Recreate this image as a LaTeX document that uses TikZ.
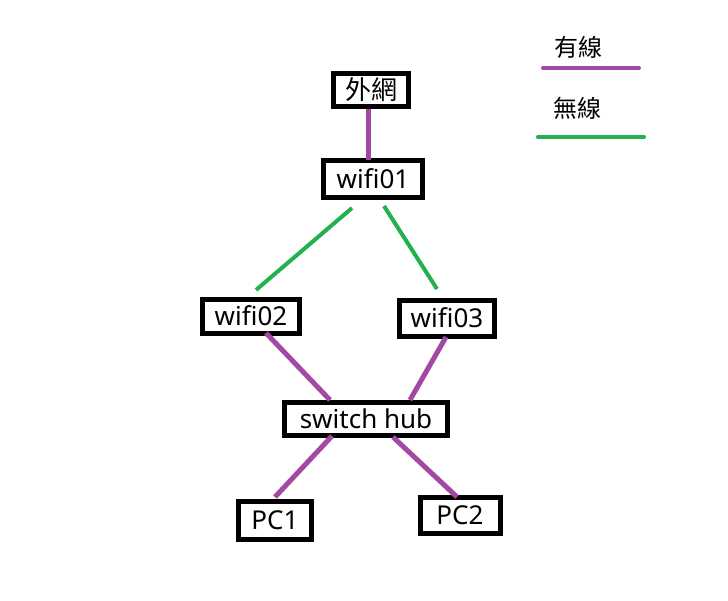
\documentclass[tikz,border=0pt]{standalone}
\usepackage{fontspec}
\setmainfont{Noto Sans}
\newfontfamily\cjk{Noto Sans CJK TC}
\usepackage{tikz}
\usetikzlibrary{positioning}
\definecolor{wirepurple}{HTML}{A349A4}
\definecolor{wifigreen}{HTML}{22B14C}

\begin{document}
\begin{tikzpicture}[x=1pt, y=-1pt,
  netbox/.style={rectangle, draw=black, fill=white, line width=5pt, font=\fontsize{26}{30}\selectfont, inner sep=0pt, align=center},
  keytext/.style={font=\cjk\fontsize{24}{28}\selectfont, inner sep=0pt},
  wired/.style={wirepurple, line width=5pt},
  wireless/.style={wifigreen, line width=4pt}
]
  \fill[white] (0,0) rectangle (728,600);
  \useasboundingbox (0,0) rectangle (728,600);

  \node[netbox, minimum width=75pt, minimum height=33pt] (ext) at (371,90) {\cjk 外網};
  \node[netbox, minimum width=99pt, minimum height=37pt] (wifi01) at (373,179) {wifi01};
  \node[netbox, minimum width=97pt, minimum height=34pt] (wifi02) at (251,316) {wifi02};
  \node[netbox, minimum width=95pt, minimum height=36pt] (wifi03) at (447,318) {wifi03};
  \node[netbox, minimum width=163pt, minimum height=33pt] (hub) at (366,419) {switch hub};
  \node[netbox, minimum width=73pt, minimum height=38pt] (pc1) at (275,520) {PC1};
  \node[netbox, minimum width=80pt, minimum height=36pt] (pc2) at (460,515) {PC2};

  \draw[wired] ([xshift=-3pt,yshift=-19pt]ext.center) -- ([xshift=-5pt,yshift=19pt]wifi01.center);
  \draw[wireless] ([xshift=-21pt,yshift=-29pt]wifi01.center) -- ([xshift=5pt,yshift=26pt]wifi02.center);
  \draw[wireless] ([xshift=11pt,yshift=-27pt]wifi01.center) -- ([xshift=-10pt,yshift=29pt]wifi03.center);
  \draw[wired] ([xshift=15pt,yshift=-17pt]wifi02.center) -- ([xshift=-36pt,yshift=19pt]hub.center);
  \draw[wired] ([xshift=-1pt,yshift=-19pt]wifi03.center) -- ([xshift=44pt,yshift=19pt]hub.center);
  \draw[wired] ([xshift=-34pt,yshift=-17pt]hub.center) -- ([yshift=23pt]pc1.center);
  \draw[wired] ([xshift=27pt,yshift=-18pt]hub.center) -- ([xshift=-3pt,yshift=18pt]pc2.center);

  % legend
  \node[keytext] (wiredkey) at (578,47) {有線};
  \node[keytext] (wirelesskey) at (577,108) {無線};
  \coordinate (wiredA) at (543,68);
  \coordinate (wiredB) at (639,68);
  \coordinate (wirelessA) at (538,137);
  \coordinate (wirelessB) at (644,137);
  \draw[wired, line width=4pt, line cap=round] (wiredA) -- (wiredB);
  \draw[wireless, line cap=round] (wirelessA) -- (wirelessB);
\end{tikzpicture}
\end{document}
